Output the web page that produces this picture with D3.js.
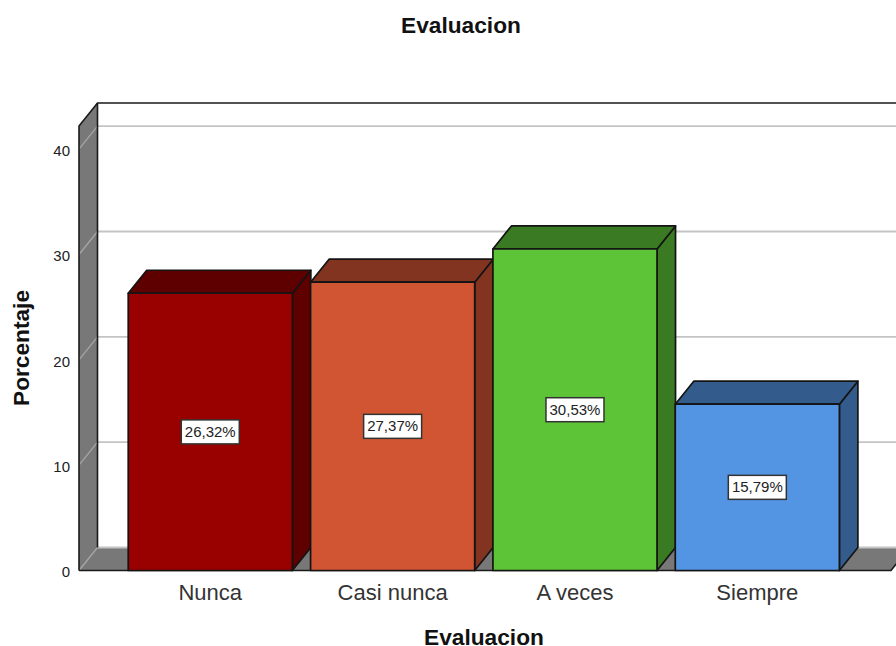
<!DOCTYPE html>
<html>
<head>
<meta charset="utf-8">
<script src="https://cdnjs.cloudflare.com/ajax/libs/d3/7.8.5/d3.min.js"></script>
<style>
html, body { margin: 0; padding: 0; background: #fff; overflow: hidden; }
text { font-family: "Liberation Sans", Arial, sans-serif; }
</style>
</head>
<body>
<script>
// chart data
var categories = ["Nunca", "Casi nunca", "A veces", "Siempre"];
var percentages = [26.32, 27.37, 30.53, 15.79];
var labels = ["26,32%", "27,37%", "30,53%", "15,79%"];
var frontColors = ["#990000", "#d15533", "#5ec437", "#5394e3"];
var sideColors = ["#5e0000", "#823420", "#3a7a22", "#335c8d"];
var yTicks = [0, 10, 20, 30, 40];

var width = 896, height = 646;

// depth of the fake 3d box
var depthX = 18.5, depthY = -23;

var svg = d3.select("body").append("svg")
    .attr("width", width)
    .attr("height", height);

var xScale = d3.scaleBand()
    .domain(categories)
    .range([119.1, 848.5])
    .paddingInner(0.1)
    .paddingOuter(0.05);

var yScale = d3.scaleLinear()
    .domain([0, 42.2])
    .range([570.5, 126]);

var left = 79, right = 891, bottom = yScale(0), top3d = yScale(42.2);

function poly(pts) {
    return d3.line()(pts) + "Z";
}

// back wall
svg.append("path")
    .attr("d", poly([[left + depthX, top3d + depthY], [right + depthX, top3d + depthY], [right + depthX, bottom + depthY], [left + depthX, bottom + depthY]]))
    .attr("fill", "#fff");

// floor
svg.append("path")
    .attr("d", poly([[left, bottom], [right, bottom], [right + depthX, bottom + depthY], [left + depthX, bottom + depthY]]))
    .attr("fill", "#787878");

// left wall
svg.append("path")
    .attr("d", poly([[left, bottom], [left + depthX, bottom + depthY], [left + depthX, top3d + depthY], [left, top3d]]))
    .attr("fill", "#787878");

// grid lines, dimmer on the left wall than on the back wall
yTicks.forEach(function(t) {
    svg.append("path")
        .attr("d", d3.line()([[left, yScale(t)], [left + depthX, yScale(t) + depthY]]))
        .attr("fill", "none")
        .attr("stroke", "#a6a6a6")
        .attr("stroke-width", 1.3);
    svg.append("path")
        .attr("d", d3.line()([[left + depthX, yScale(t) + depthY], [right + depthX, yScale(t) + depthY]]))
        .attr("fill", "none")
        .attr("stroke", "#c4c4c4")
        .attr("stroke-width", 1.8);
});

// box outline
svg.append("path")
    .attr("d", d3.line()([[left, bottom], [left, top3d], [left + depthX, top3d + depthY], [right + depthX, top3d + depthY]]))
    .attr("fill", "none").attr("stroke", "#1a1a1a").attr("stroke-width", 1.6);
svg.append("path")
    .attr("d", d3.line()([[left + depthX, top3d + depthY], [left + depthX, bottom + depthY]]))
    .attr("fill", "none").attr("stroke", "#1a1a1a").attr("stroke-width", 1.6);
svg.append("path")
    .attr("d", d3.line()([[left, bottom], [right, bottom], [right + depthX, bottom + depthY]]))
    .attr("fill", "none").attr("stroke", "#1a1a1a").attr("stroke-width", 1.6);

// bars
categories.forEach(function(cat, i) {
    var x0 = xScale(cat), x1 = x0 + xScale.bandwidth();
    var y0 = yScale(0), y1 = yScale(percentages[i]);
    var g = svg.append("g")
        .attr("stroke", "#141414")
        .attr("stroke-width", 1.7)
        .attr("stroke-linejoin", "round");

    g.append("path")
        .attr("d", poly([[x1, y0], [x1 + depthX, y0 + depthY], [x1 + depthX, y1 + depthY], [x1, y1]]))
        .attr("fill", sideColors[i]);
    g.append("path")
        .attr("d", poly([[x0, y1], [x0 + depthX, y1 + depthY], [x1 + depthX, y1 + depthY], [x1, y1]]))
        .attr("fill", sideColors[i]);
    g.append("rect")
        .attr("x", x0).attr("y", y1)
        .attr("width", x1 - x0).attr("height", y0 - y1)
        .attr("fill", frontColors[i]);

    // value label in its box
    var cx = (x0 + x1) / 2, cy = (y0 + y1) / 2;
    svg.append("rect")
        .attr("x", cx - 29).attr("y", cy - 12)
        .attr("width", 58).attr("height", 24)
        .attr("fill", "#fff")
        .attr("stroke", "#333")
        .attr("stroke-width", 1.5);
    svg.append("text")
        .attr("x", cx).attr("y", cy + 5)
        .attr("text-anchor", "middle")
        .attr("font-size", "15px")
        .attr("fill", "#222")
        .text(labels[i]);
});

// y axis, no tick marks in the original
var yAxis = d3.axisLeft(yScale).tickValues(yTicks).tickSize(0).tickPadding(9);
var yG = svg.append("g")
    .attr("transform", "translate(" + left + ",1.5)")
    .call(yAxis);
yG.select(".domain").remove();
yG.selectAll("text").attr("font-size", "15px").attr("fill", "#222")
    .style("font-family", "'Liberation Sans', Arial, sans-serif");

// x axis labels
var xG = svg.append("g")
    .attr("transform", "translate(0," + (bottom + 2) + ")")
    .call(d3.axisBottom(xScale).tickSize(0).tickPadding(12));
xG.select(".domain").remove();
xG.selectAll("text").attr("font-size", "22px").attr("fill", "#333")
    .style("font-family", "'Liberation Sans', Arial, sans-serif");

// titles
svg.append("text")
    .attr("x", 461).attr("y", 33)
    .attr("text-anchor", "middle")
    .attr("font-size", "22.7px").attr("font-weight", "bold").attr("fill", "#111")
    .text("Evaluacion");
svg.append("text")
    .attr("x", 484).attr("y", 645)
    .attr("text-anchor", "middle")
    .attr("font-size", "22.7px").attr("font-weight", "bold").attr("fill", "#111")
    .text("Evaluacion");
svg.append("text")
    .attr("transform", "translate(29,348) rotate(-90)")
    .attr("text-anchor", "middle")
    .attr("font-size", "22.7px").attr("font-weight", "bold").attr("fill", "#111")
    .text("Porcentaje");
</script>
</body>
</html>
